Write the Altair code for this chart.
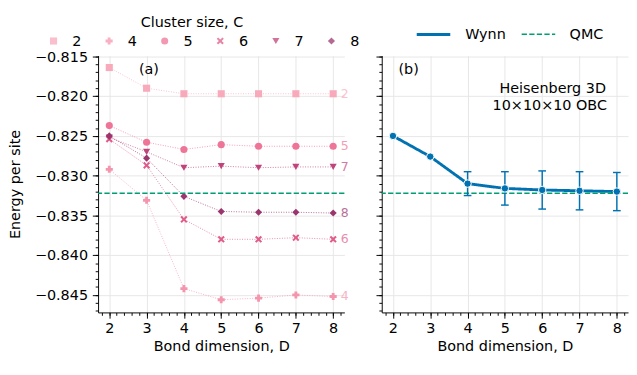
import altair as alt
import pandas as pd

# ---------------- data ----------------
D = [2, 3, 4, 5, 6, 7, 8]
CLUSTERS = ["2", "4", "5", "6", "7", "8"]
E_C2 = [-0.8164, -0.8190, -0.8197, -0.8197, -0.8197, -0.8197, -0.8197]
E_C4 = [-0.8292, -0.8331, -0.8442, -0.8456, -0.8454, -0.8450, -0.8452]
E_C5 = [-0.8237, -0.8258, -0.8267, -0.8261, -0.8263, -0.8263, -0.8263]
E_C6 = [-0.8254, -0.8287, -0.8355, -0.8380, -0.8380, -0.8378, -0.8380]
E_C7 = [-0.8252, -0.8270, -0.8290, -0.8288, -0.8290, -0.8289, -0.8289]
E_C8 = [-0.8250, -0.8278, -0.8326, -0.8345, -0.8346, -0.8346, -0.8347]
WYNN = [-0.8250, -0.8276, -0.8310, -0.8316, -0.8318, -0.8319, -0.8320]
WYNN_ERR = [None, None, 0.0015, 0.0021, 0.0024, 0.0024, 0.0024]
QMC = -0.8322

X_TICKS = [2, 3, 4, 5, 6, 7, 8]
X_MINOR = [1.8, 2.0, 2.2, 2.4, 2.6, 2.8, 3.0, 3.2, 3.4, 3.6, 3.8, 4.0, 4.2, 4.4,
           4.6, 4.8, 5.0, 5.2, 5.4, 5.6, 5.8, 6.0, 6.2, 6.4, 6.6, 6.8, 7.0, 7.2,
           7.4, 7.6, 7.8, 8.0, 8.2]
Y_TICKS = [-0.815, -0.820, -0.825, -0.830, -0.835, -0.840, -0.845]
Y_MINOR = [-0.815, -0.816, -0.817, -0.818, -0.819, -0.820, -0.821, -0.822,
           -0.823, -0.824, -0.825, -0.826, -0.827, -0.828, -0.829, -0.830,
           -0.831, -0.832, -0.833, -0.834, -0.835, -0.836, -0.837, -0.838,
           -0.839, -0.840, -0.841, -0.842, -0.843, -0.844, -0.845, -0.846,
           -0.847]
X_DOMAIN = [1.7, 8.3]
Y_DOMAIN = [-0.8472, -0.8149]

# ---------------- styles ----------------
CLUSTER_COLORS = ["#f8aabb", "#f595ad", "#ef7598", "#e05c8a", "#c0437b", "#9b356e"]
X_SHAPE = ("M-1,-0.6L-0.6,-1L0,-0.4L0.6,-1L1,-0.6L0.4,0L1,0.6L0.6,1L0,0.4"
           "L-0.6,1L-1,0.6L-0.4,0Z")
CLUSTER_SHAPES = ["square", "cross", "circle", X_SHAPE, "triangle-down", "diamond"]
WYNN_COLOR = "#0072b2"
QMC_COLOR = "#009e73"
FONT = "DejaVu Sans"
FS = 15

rows = []
for c, vals in zip(CLUSTERS, [E_C2, E_C4, E_C5, E_C6, E_C7, E_C8]):
    for d, e in zip(D, vals):
        rows.append({"D": d, "C": c, "E": e})
df = pd.DataFrame(rows)
last = df[df["D"] == D[-1]]

wdf = pd.DataFrame({"D": D, "E": WYNN, "err": WYNN_ERR, "series": "Wynn"})
edf = wdf.dropna().copy()
edf["lo"] = edf["E"] - edf["err"]
edf["hi"] = edf["E"] + edf["err"]
qdf = pd.DataFrame({"E": [QMC], "series": ["QMC"]})
minor_df = pd.DataFrame({"D": [X_DOMAIN[0]], "E": [Y_DOMAIN[0]]})

xs = alt.Scale(domain=X_DOMAIN, nice=False, zero=False)
ys = alt.Scale(domain=Y_DOMAIN, nice=False, zero=False)

x_axis = alt.Axis(values=X_TICKS, format="d", title="Bond dimension, D",
                  orient="bottom", tickSize=6, labelFontSize=FS,
                  titleFontSize=FS, labelPadding=3, titlePadding=4, grid=True)


def y_axis(labels=True):
    if labels:
        return alt.Axis(values=Y_TICKS, format=".3f", title="Energy per site",
                        orient="left", tickSize=6, labelFontSize=FS,
                        titleFontSize=FS, labelPadding=5, titlePadding=12,
                        grid=True)
    return alt.Axis(values=Y_TICKS, labels=False, title=None, tickSize=6,
                    orient="left", grid=True)


def minor_layer():
    return alt.Chart(minor_df).mark_point(opacity=0).encode(
        x=alt.X("D:Q", scale=xs,
                axis=alt.Axis(values=X_MINOR, labels=False, grid=False,
                              domain=False, tickSize=3, title=None,
                              orient="bottom")),
        y=alt.Y("E:Q", scale=ys,
                axis=alt.Axis(values=Y_MINOR, labels=False, grid=False,
                              domain=False, tickSize=3, title=None,
                              orient="left")),
    )


def text_layer(txt, x, y, align="center"):
    return alt.Chart(pd.DataFrame({"t": [txt]})).mark_text(
        fontSize=FS, font=FONT, align=align, baseline="middle").encode(
        x=alt.value(x), y=alt.value(y), text="t:N")


X_ENC = alt.X("D:Q", scale=xs, axis=x_axis)
YL = alt.Y("E:Q", scale=ys, axis=y_axis(True))
color_c = alt.Scale(domain=CLUSTERS, range=CLUSTER_COLORS)
shape_c = alt.Scale(domain=CLUSTERS, range=CLUSTER_SHAPES)

legend_c = alt.Legend(title=None, orient="none", legendX=-54, legendY=-23,
                      direction="horizontal", labelFontSize=FS, labelFont=FONT,
                      labelOffset=12, columnPadding=21, symbolSize=55,
                      symbolStrokeWidth=0)

base = alt.Chart(df).encode(x=X_ENC, y=YL)

lines_l = base.mark_line(strokeWidth=1, strokeDash=[1, 1.6], opacity=0.75).encode(
    color=alt.Color("C:N", scale=color_c, legend=legend_c), detail="C:N")

points_l = base.mark_point(filled=True, opacity=1, size=55).encode(
    color=alt.Color("C:N", scale=color_c, legend=legend_c),
    shape=alt.Shape("C:N", scale=shape_c, legend=legend_c),
)

end_labels = alt.Chart(last).mark_text(align="left", baseline="middle", dx=8,
                                       fontSize=13, font=FONT, opacity=0.7).encode(
    x=X_ENC, y=YL, text="C:N",
    color=alt.Color("C:N", scale=color_c, legend=legend_c))

qmc_l = alt.Chart(qdf).mark_rule(strokeWidth=1.5, strokeDash=[5.5, 2.4],
                                 color=QMC_COLOR).encode(y=YL)

left_main = alt.layer(lines_l, points_l, qmc_l, end_labels,
                      text_layer("(a)", 53, 14),
                      text_layer("Cluster size, C", 98, -35))
left = alt.layer(left_main, minor_layer()).resolve_axis(
    x="independent", y="independent").properties(width=257, height=268)

# ---------------- right panel ----------------
series_dom = ["Wynn", "QMC"]
legend_s = alt.Legend(title=None, orient="none", legendX=35, legendY=-41,
                      direction="horizontal", symbolType="stroke",
                      symbolSize=1225, labelFontSize=FS, labelFont=FONT,
                      labelOffset=14, columnPadding=13)
color_s = alt.Color("series:N", scale=alt.Scale(domain=series_dom,
                    range=[WYNN_COLOR, QMC_COLOR]), legend=legend_s)
dash_s = alt.StrokeDash("series:N", scale=alt.Scale(domain=series_dom,
                        range=[[1, 0], [5.5, 2.4]]), legend=legend_s)
width_s = alt.StrokeWidth("series:N", scale=alt.Scale(domain=series_dom,
                          range=[3, 1.5]), legend=legend_s)

YR = alt.Y("E:Q", scale=ys, axis=y_axis(False))
rbase = alt.Chart(wdf).encode(x=X_ENC, y=YR)
qmc_r = alt.Chart(qdf).mark_rule().encode(
    y=YR, color=color_s, strokeDash=dash_s, strokeWidth=width_s)
err_r = alt.Chart(edf).mark_rule(color=WYNN_COLOR, strokeWidth=1.5).encode(
    x=X_ENC, y=alt.Y("lo:Q", scale=ys, axis=y_axis(False)), y2="hi:Q")
cap_lo = alt.Chart(edf).mark_point(shape="stroke", size=64, strokeWidth=1.5,
                                   color=WYNN_COLOR, opacity=1).encode(
    x=X_ENC, y=alt.Y("lo:Q", scale=ys, axis=y_axis(False)))
cap_hi = alt.Chart(edf).mark_point(shape="stroke", size=64, strokeWidth=1.5,
                                   color=WYNN_COLOR, opacity=1).encode(
    x=X_ENC, y=alt.Y("hi:Q", scale=ys, axis=y_axis(False)))
line_r = rbase.mark_line().encode(color=color_s, strokeDash=dash_s,
                                  strokeWidth=width_s)
pts_r = rbase.mark_circle(size=60, color=WYNN_COLOR, stroke="white",
                          strokeWidth=1, opacity=1)

right_main = alt.layer(line_r, qmc_r, err_r, cap_lo, cap_hi, pts_r,
                       text_layer("(b)", 28, 14),
                       text_layer("Heisenberg 3D", 234, 34, "right"),
                       text_layer("10×10×10 OBC", 235, 52, "right"))
right = alt.layer(right_main, minor_layer()).resolve_axis(
    x="independent", y="independent").properties(width=257, height=268)

chart = alt.hconcat(left, right, spacing=39, bounds="flush").resolve_scale(
    color="independent", shape="independent", strokeDash="independent",
    strokeWidth="independent", x="independent", y="independent"
).properties(padding=0).configure_view(stroke=None).configure_axis(
    domainColor="black", tickColor="black", labelColor="black",
    titleColor="black", gridColor="#e6e6e6", labelFont=FONT, titleFont=FONT,
    titleFontWeight="normal", domainWidth=1, tickWidth=1
).configure_text(font=FONT)

chart.save("out.html", embed_options={"renderer": "svg", "actions": False})
